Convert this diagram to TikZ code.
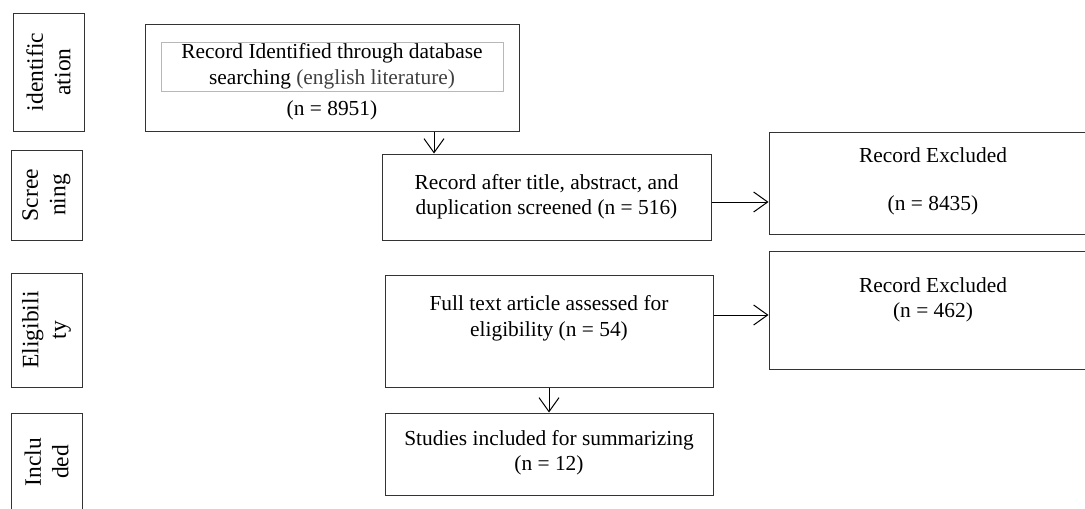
\documentclass[tikz,border=0pt]{standalone}
\usepackage{fontspec}
\setmainfont{Liberation Serif}
\usetikzlibrary{arrows.meta}
\begin{document}
\begin{tikzpicture}[x=1pt,y=-1pt,
  box/.style={draw=black!80,line width=1pt,inner sep=0pt},
  txt/.style={align=center,inner sep=0pt,font=\fontsize{21.4}{25.5}\selectfont},
  side/.style={align=center,inner sep=0pt,rotate=90,font=\fontsize{23.5}{27.5}\selectfont},
  arr/.style={draw=black,line width=1pt,-{Straight Barb[length=14pt,width=20pt,line width=1pt]}}]
\useasboundingbox (0,0) rectangle (1085,509);
% side labels
\node[box,minimum width=71pt,minimum height=118pt] (sid) at (48.5,72) {};
\node[side] at (sid.center) {identific\\ation};
\node[box,minimum width=71pt,minimum height=90pt] (ssc) at (46.5,195) {};
\node[side] at (ssc.center) {Scree\\ning};
\node[box,minimum width=71pt,minimum height=114pt] (sel) at (46.5,330) {};
\node[side] at (sel.center) {Eligibili\\ty};
\node[box,minimum width=71pt,minimum height=107pt] (sin) at (46.5,466.5) {};
\node[side] at (46.5,462) {Inclu\\ded};
% top box
\node[box,minimum width=374pt,minimum height=107pt] (top) at (332,77.5) {};
\node[draw=black!28,line width=0.8pt,minimum width=342pt,minimum height=49pt,inner sep=0pt] (inner) at (332,66.5) {};
\node[txt] at (inner.center) {Record Identified through database\\searching {\color{black!75}(english literature)}};
\node[txt] at (332,110) {(n = 8951)};
% screening
\node[box,minimum width=329pt,minimum height=86pt] (scr) at (546.5,197) {};
\node[txt] at (546.5,196.5) {Record after title, abstract, and\\duplication screened (n = 516)};
% excluded 1
\node[box,minimum width=321pt,minimum height=102pt] (ex1) at (929.5,183) {};
\node[txt] at (933,155) {Record Excluded};
\node[txt] at (933,205) {(n = 8435)};
% eligibility
\node[box,minimum width=328pt,minimum height=112pt] (eli) at (549,331) {};
\node[txt] at (549,318.5) {Full text article assessed for\\eligibility (n = 54)};
% excluded 2
\node[box,minimum width=321pt,minimum height=118pt] (ex2) at (929.5,310) {};
\node[txt] at (933,300) {Record Excluded\\(n = 462)};
% included
\node[box,minimum width=328pt,minimum height=82pt] (inc) at (549,454) {};
\node[txt] at (549,452.5) {Studies included for summarizing\\(n = 12)};
% connectors
\coordinate (a1) at (434,0);
\draw[arr] (top.south -| a1) -- (scr.north -| a1);
\coordinate (a2) at (0,202);
\draw[arr] (scr.east |- a2) -- (ex1.west |- a2);
\coordinate (a3) at (0,315);
\draw[arr] (eli.east |- a3) -- (ex2.west |- a3);
\draw[arr] (eli.south) -- (inc.north);
\end{tikzpicture}
\end{document}
